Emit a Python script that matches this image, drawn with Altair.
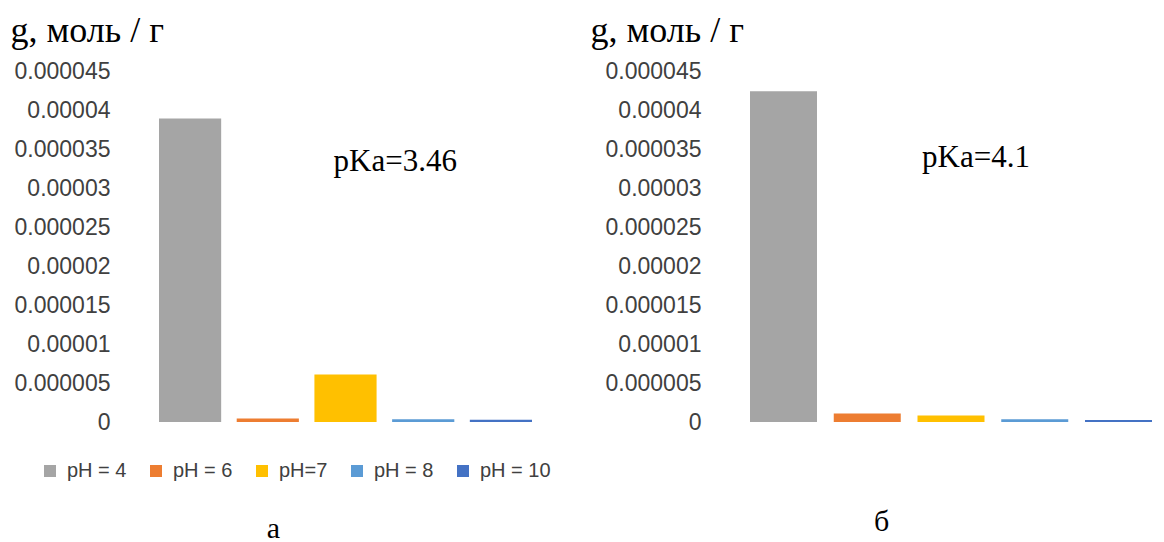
import altair as alt
import pandas as pd

categories = ["pH = 4", "pH = 6", "pH=7", "pH = 8", "pH = 10"]
colors = ["#A5A5A5", "#ED7D31", "#FFC000", "#5B9BD5", "#4472C4"]
values_a = [0.0000389, 0.00000045, 0.0000061, 0.00000035, 0.00000028]
values_b = [0.0000424, 0.0000011, 0.00000082, 0.00000035, 0.00000026]
y_ticks = [0, 0.000005, 0.00001, 0.000015, 0.00002, 0.000025,
           0.00003, 0.000035, 0.00004, 0.000045]
tick_labels = ["0", "0.000005", "0.00001", "0.000015", "0.00002", "0.000025",
               "0.00003", "0.000035", "0.00004", "0.000045"]
y_title = "g, моль / г"
pka_labels = ["pKa=3.46", "pKa=4.1"]
pka_y = [0.0000322, 0.0000327]
panel_labels = ["а", "б"]

SERIF = "Liberation Serif"
SANS = "Liberation Sans"
label_expr = "[" + ",".join(f"'{t}'" for t in tick_labels) + "][round(datum.value / 0.000005)]"


def panel(values, pka, pky, sub, width, title_x, sub_x, sub_y, text_dx, legend_x, col_pad):
    df = pd.DataFrame({"pH": categories, "g": values})
    x = alt.X(
        "pH:N", sort=categories,
        scale=alt.Scale(paddingInner=0.2, paddingOuter=0),
        axis=alt.Axis(labels=False, ticks=False, domain=False, title=sub,
                      titleFont=SERIF, titleFontSize=30, titleFontWeight="normal",
                      titleColor="#000000", titleX=sub_x, titleY=sub_y,
                      titleAlign="center", titleBaseline="alphabetic"),
    )
    y = alt.Y(
        "g:Q",
        scale=alt.Scale(domain=[0, 0.000045], nice=False),
        axis=alt.Axis(values=y_ticks, labelExpr=label_expr, grid=False, domain=False,
                      ticks=False, labelPadding=49, labelFont=SANS, labelFontSize=23,
                      labelColor="#404040", labelOverlap=False, title=y_title,
                      titleAngle=0, titleAlign="left", titleBaseline="alphabetic",
                      titleX=title_x, titleY=-30, titleFont=SERIF, titleFontSize=36,
                      titleFontWeight="normal", titleColor="#000000"),
    )
    bars = alt.Chart(df).mark_bar().encode(
        x=x, y=y,
        color=alt.Color(
            "pH:N", sort=categories,
            scale=alt.Scale(domain=categories, range=colors),
            legend=alt.Legend(orient="none", legendX=legend_x, legendY=390,
                              direction="horizontal", title=None, symbolType="square",
                              symbolSize=144, symbolStrokeWidth=0, symbolOpacity=1,
                              labelFont=SANS, labelFontSize=20, labelColor="#404040",
                              columnPadding=col_pad, labelOffset=7, padding=0),
        ),
    )
    tdf = pd.DataFrame({"pH": ["pH=7"], "g": [pky], "t": [pka]})
    text = alt.Chart(tdf).mark_text(
        font=SERIF, fontSize=31, align="left", baseline="alphabetic",
        dx=text_dx, color="#000000",
    ).encode(x=x, y=y, text="t:N")
    return alt.layer(bars, text).properties(width=width, height=351)


left = panel(values_a, pka_labels[0], pka_y[0], panel_labels[0], 373,
             -149, 114, 115, -12, -119, 19)
right = panel(values_b, pka_labels[1], pka_y[1], panel_labels[1], 402,
              -160, 131, 108, -29, -112, 25)

chart = alt.hconcat(left, right, spacing=218, bounds="flush").properties(
    padding={"left": 2, "top": 4, "right": 0, "bottom": 0}
).configure_view(strokeWidth=0)

chart.save("out.html", embed_options={"renderer": "svg", "actions": False})
